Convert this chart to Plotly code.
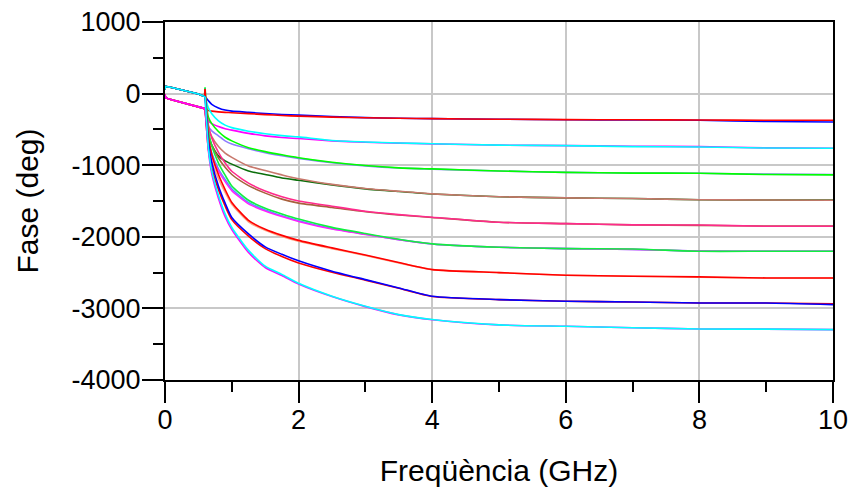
import plotly.graph_objects as go

# ---------------- data ----------------
FREQ_PRE = [0.0, 0.01, 0.1, 0.2, 0.3, 0.4, 0.5, 0.59]
PRE_UPPER = [60, 100, 85, 65, 45, 20, -5, -40]
PRE_LOWER = [-15, -60, -85, -110, -135, -155, -180, -205]

FREQ = [0.6, 0.65, 0.7, 0.8, 0.9, 1.0, 1.25, 1.5, 1.75, 2.0, 2.5, 3.0, 3.5, 4.0, 5.0, 6.0, 7.0, 8.0, 9.0, 10.0]

G1_BLUE = [-40, -100, -150, -200, -230, -245, -262, -278, -291, -300, -320, -335, -345, -350, -358, -365, -368, -372, -390, -396]
G1_RED = [-215, -235, -245, -255, -262, -267, -280, -293, -306, -315, -328, -338, -345, -350, -358, -363, -366, -368, -372, -372]
G2_CYAN = [-40, -200, -280, -380, -440, -475, -525, -560, -587, -605, -655, -675, -690, -700, -720, -726, -740, -745, -760, -763]
G2_MAGENTA = [-210, -380, -420, -460, -490, -510, -555, -590, -613, -628, -660, -680, -692, -702, -720, -726, -735, -740, -758, -763]
G3_GREEN = [-40, -330, -420, -530, -610, -660, -755, -810, -855, -895, -958, -1005, -1037, -1052, -1080, -1100, -1110, -1112, -1130, -1135]
G3_PURPLE = [-210, -460, -520, -590, -660, -705, -770, -825, -868, -905, -965, -1010, -1040, -1055, -1080, -1100, -1108, -1112, -1125, -1130]
G4_BROWN = [-40, -480, -600, -740, -830, -890, -1010, -1075, -1135, -1190, -1268, -1325, -1364, -1400, -1440, -1457, -1465, -1482, -1486, -1490]
G4_DKGREEN = [-210, -600, -720, -870, -940, -985, -1080, -1130, -1178, -1210, -1275, -1330, -1368, -1402, -1440, -1457, -1465, -1482, -1486, -1488]
G5_PINK = [-40, -440, -620, -820, -970, -1085, -1250, -1360, -1440, -1500, -1573, -1643, -1690, -1727, -1797, -1816, -1834, -1836, -1853, -1853]
G5_SIENNA = [-210, -560, -720, -900, -1030, -1130, -1285, -1390, -1474, -1530, -1590, -1650, -1695, -1730, -1797, -1816, -1834, -1840, -1850, -1850]
G6_GREEN = [85, -520, -730, -970, -1140, -1290, -1490, -1600, -1680, -1752, -1868, -1955, -2035, -2099, -2146, -2165, -2170, -2202, -2202, -2202]
G6_LTBLUE = [-210, -640, -830, -1050, -1200, -1330, -1520, -1625, -1705, -1775, -1885, -1965, -2040, -2100, -2146, -2165, -2175, -2200, -2202, -2202]
G6_MAGENTA = [-210, -680, -870, -1080, -1230, -1355, -1540, -1640, -1718, -1785, -1892, -1968, -2042, -2100, -2146, -2165, -2175, -2200, -2202, -2202]
G7_RED = [65, -600, -850, -1130, -1340, -1520, -1770, -1895, -1980, -2050, -2155, -2255, -2360, -2458, -2500, -2537, -2551, -2560, -2575, -2575]
G7_SALMON = [-210, -700, -940, -1190, -1380, -1545, -1790, -1910, -1995, -2062, -2165, -2262, -2365, -2458, -2500, -2537, -2551, -2565, -2575, -2575]
G8_BLUE = [-40, -680, -960, -1290, -1530, -1730, -1960, -2140, -2245, -2335, -2480, -2598, -2714, -2831, -2877, -2900, -2910, -2924, -2924, -2947]
G8_RED = [-210, -780, -1040, -1340, -1570, -1760, -1990, -2165, -2275, -2365, -2495, -2605, -2718, -2833, -2877, -2900, -2910, -2924, -2924, -2935]
G9_CYAN = [-40, -760, -1080, -1420, -1680, -1870, -2190, -2410, -2525, -2650, -2830, -2970, -3087, -3156, -3230, -3250, -3270, -3287, -3290, -3296]
G9_MAGENTA = [-210, -800, -1120, -1460, -1720, -1900, -2220, -2430, -2540, -2660, -2835, -2975, -3090, -3158, -3230, -3250, -3270, -3287, -3290, -3296]

X_TICKS = [0, 2, 4, 6, 8, 10]
Y_TICKS = [1000, 0, -1000, -2000, -3000, -4000]

# (values, colour, prefix) in drawing order
SERIES = [
    (G1_BLUE, "#0000ff", PRE_UPPER), (G1_RED, "#ff0000", PRE_LOWER),
    (G2_MAGENTA, "#ff00ff", PRE_LOWER), (G2_CYAN, "#00ffff", PRE_UPPER),
    (G3_PURPLE, "#8c7cff", PRE_LOWER), (G3_GREEN, "#00ff00", PRE_UPPER),
    (G4_DKGREEN, "#0a6e0a", PRE_LOWER), (G4_BROWN, "#c8786c", PRE_UPPER),
    (G5_SIENNA, "#a8603c", PRE_LOWER), (G5_PINK, "#ff2a8c", PRE_UPPER),
    (G6_LTBLUE, "#4aa0ff", PRE_LOWER), (G6_MAGENTA, "#ff20ff", PRE_LOWER),
    (G6_GREEN, "#10f040", PRE_UPPER),
    (G7_SALMON, "#ffa080", PRE_LOWER), (G7_RED, "#ff0000", PRE_UPPER),
    (G8_RED, "#ff0000", PRE_LOWER), (G8_BLUE, "#0000ff", PRE_UPPER),
    (G9_MAGENTA, "#ff00ff", PRE_LOWER), (G9_CYAN, "#00ffff", PRE_UPPER),
]

fig = go.Figure()
for vals, col, pre in SERIES:
    # pass-band part (and the jump at the band edge) as straight segments
    fig.add_trace(go.Scatter(
        x=FREQ_PRE + FREQ[:1], y=pre + vals[:1], mode="lines",
        line=dict(color=col, width=1.6), showlegend=False, hoverinfo="skip"))
    # stop-band part, smoothed through the read points
    fig.add_trace(go.Scatter(
        x=FREQ, y=vals, mode="lines",
        line=dict(color=col, width=1.6, shape="spline", smoothing=0.6),
        showlegend=False, hoverinfo="skip"))

FONT = "Liberation Sans, Arial, sans-serif"
fig.update_layout(
    width=854, height=498,
    margin=dict(l=165, r=21, t=22, b=118, autoexpand=False),
    paper_bgcolor="white", plot_bgcolor="white",
    font=dict(family=FONT, color="black", size=27),
)
common = dict(
    showgrid=True, gridcolor="#c8c8c8", gridwidth=2, zeroline=False,
    showline=True, linecolor="black", linewidth=2, mirror=True,
    ticks="outside", ticklen=21, tickwidth=1.5, tickcolor="black",
    tickfont=dict(size=27), automargin=False,
)
fig.update_xaxes(
    range=[0, 10], tickvals=X_TICKS, ticktext=[str(v) for v in X_TICKS],
    minor=dict(dtick=1, ticks="outside", ticklen=10, tickwidth=1.5, tickcolor="black", showgrid=False),
    title=dict(text="Freqüència (GHz)", font=dict(size=30), standoff=26),
    ticklabelstandoff=-6,
    **common,
)
fig.update_yaxes(
    range=[-4000, 1000], tickvals=Y_TICKS, ticktext=[str(v) for v in Y_TICKS],
    minor=dict(dtick=500, ticks="outside", ticklen=10, tickwidth=1.5, tickcolor="black", showgrid=False),
    title=dict(text="Fase (deg)", font=dict(size=30), standoff=24),
    ticklabelstandoff=-4,
    **common,
)

fig.write_html("out.html")
